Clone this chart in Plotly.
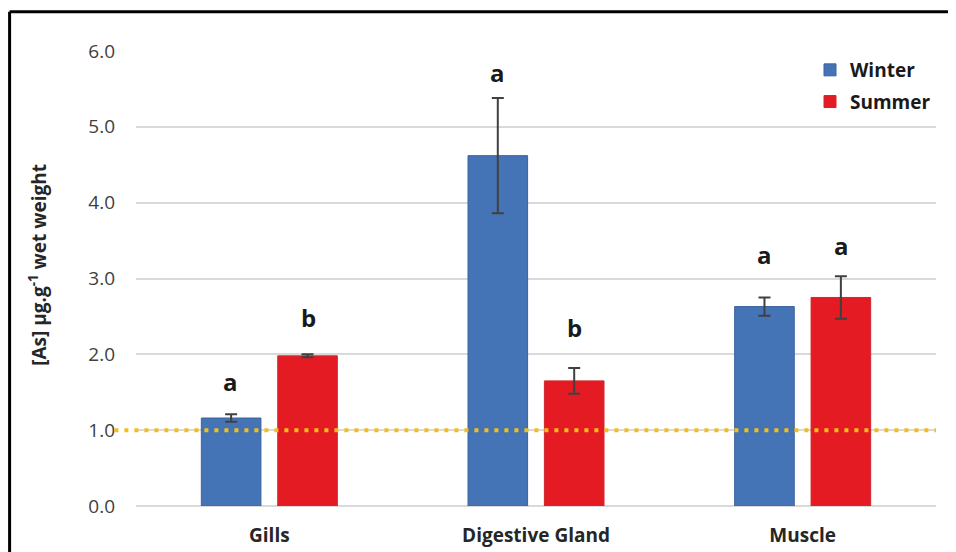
import plotly.graph_objects as go

categories = ["Gills", "Digestive Gland", "Muscle"]
winter = [1.16, 4.62, 2.63]
winter_err = [0.05, 0.76, 0.12]
summer = [1.98, 1.65, 2.75]
summer_err = [0.02, 0.17, 0.28]
winter_letters = ["a", "a", "a"]
summer_letters = ["b", "b", "a"]
winter_letter_y = [1.64, 5.71, 3.31]
summer_letter_y = [2.49, 2.35, 3.43]
threshold = 1.0
y_ticks = [0, 1, 2, 3, 4, 5, 6]

BLUE = "#4474B6"
RED = "#E51B24"
FONT = "Open Sans"

fig = go.Figure()
fig.add_trace(go.Bar(
    name="Winter", x=categories, y=winter, legendgroup="w",
    marker=dict(color=BLUE, line=dict(color="#3A62A0", width=1)),
    error_y=dict(type="data", array=winter_err, visible=True,
                 color="#404040", thickness=2, width=6),
))
fig.add_trace(go.Bar(
    name="Summer", x=categories, y=summer, legendgroup="s",
    marker=dict(color=RED, line=dict(color="#D0262B", width=1)),
    error_y=dict(type="data", array=summer_err, visible=True,
                 color="#404040", thickness=2, width=6),
))

annotations = []
for i, c in enumerate(categories):
    for lbl, yv, off in ((winter_letters[i], winter_letter_y[i], -0.145),
                         (summer_letters[i], summer_letter_y[i], 0.145)):
        annotations.append(dict(
            x=i + off, y=yv, xref="x", yref="y", text="<b>%s</b>" % lbl,
            showarrow=False, font=dict(family=FONT, size=24, color="#1a1a1a"),
        ))
annotations.append(dict(
    x=-0.1225, y=0.53, xref="paper", yref="paper", textangle=-90,
    text="<b>[As] µg.g<sup>-1</sup> wet weight</b>", showarrow=False,
    xanchor="center", yanchor="middle",
    font=dict(family=FONT, size=19, color="#262626"),
))

shapes = [
    # threshold dotted line
    dict(type="line", xref="paper", yref="y", x0=-0.027, x1=1.0,
         y0=threshold, y1=threshold, layer="above",
         line=dict(color="#F3BD1C", width=4, dash="4px,6px")),
    # outer frame (left and top)
    dict(type="line", xref="paper", yref="paper", x0=-0.158, x1=-0.158,
         y0=1.086, y1=-0.2, line=dict(color="black", width=3)),
    dict(type="line", xref="paper", yref="paper", x0=-0.158, x1=1.12,
         y0=1.086, y1=1.086, line=dict(color="black", width=3)),
]

# page body adds an 8px offset, so margins are shifted to compensate
fig.update_layout(
    width=956, height=552,
    margin=dict(l=128, r=28, t=43, b=52),
    paper_bgcolor="white", plot_bgcolor="white",
    barmode="group", bargap=0.427, bargroupgap=0.22,
    font=dict(family=FONT, color="#404040"),
    showlegend=True,
    legend=dict(x=1.0, y=1.0, xanchor="right", yanchor="top",
                font=dict(family=FONT, size=19, color="#1a1a1a", weight="bold"),
                tracegroupgap=4, bgcolor="rgba(0,0,0,0)"),
    annotations=annotations,
    shapes=shapes,
)
fig.update_xaxes(
    tickfont=dict(family=FONT, size=19, color="#262626", weight="bold"),
    showline=False, showgrid=False, ticks="", ticklabelstandoff=16,
)
fig.update_yaxes(
    range=[0, 6], tickvals=y_ticks, tickformat=".1f",
    tickfont=dict(family=FONT, size=19, color="#404040"),
    showgrid=True, gridcolor="#D9D9D9", gridwidth=1.5,
    zeroline=True, zerolinecolor="#D9D9D9", zerolinewidth=1.5,
    ticks="", ticklabelstandoff=20,
)

fig.write_html("out.html")
